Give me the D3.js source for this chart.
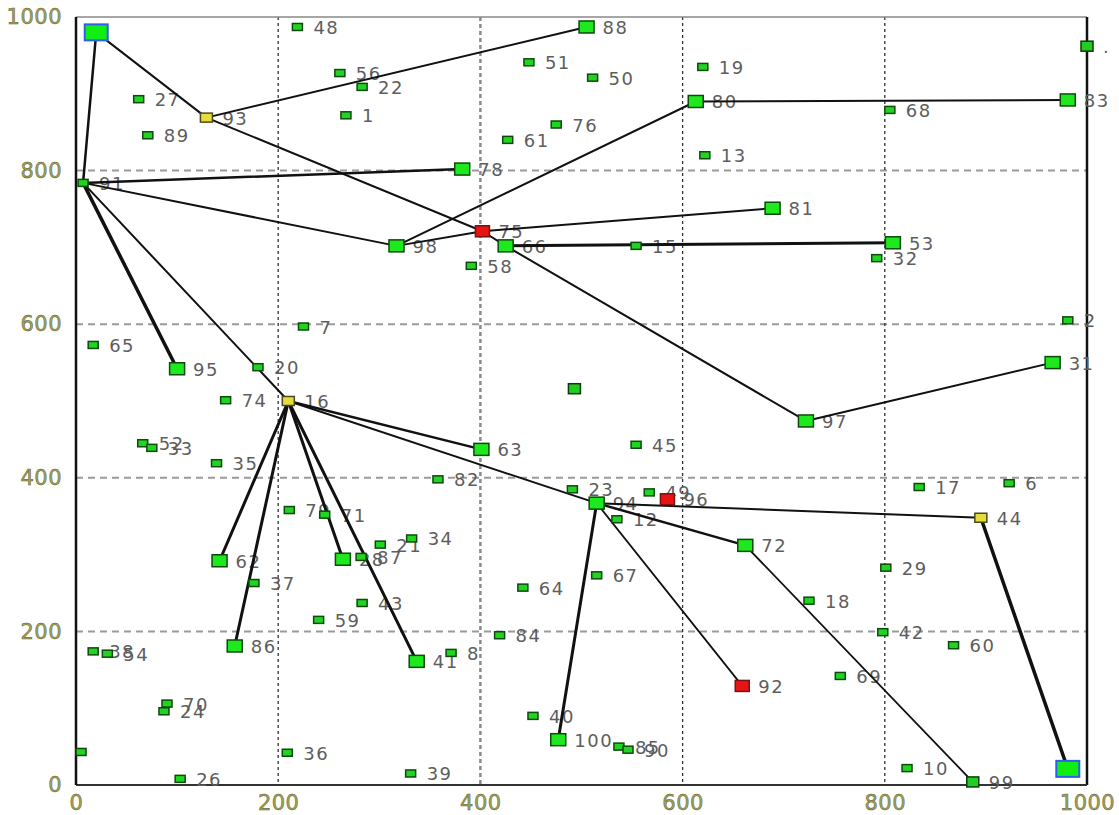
<!DOCTYPE html>
<html>
<head>
<meta charset="utf-8">
<script src="https://cdn.jsdelivr.net/npm/d3@7"></script>
<style>
  html, body { margin: 0; padding: 0; background: #ffffff; }
  svg { display: block; }
</style>
</head>
<body>
<svg id="chart" width="1119" height="815"></svg>
<script>
// Node ids, positions (0..1000 field coordinates) and marker kind
const nodeIds = ["s","t","u1","u2","u3",
  "48","88","56","22","1","51","50","19","76","61","13","80","68","83","27","93","89","78","91",
  "98","75","66","58","15","81","53","32","7","2","65","95","20","31","97","74","16","52","33",
  "35","63","45","82","23","49","96","94","12","17","6","44","79","71","21","34","62","28","87",
  "37","64","67","72","29","18","43","59","86","38","54","84","41","8","92","69","42","60","70",
  "24","40","100","85","90","36","39","26","10","99"];
const nodeLabels = ["","","","",".",
  "48","88","56","22","1","51","50","19","76","61","13","80","68","83","27","93","89","78","91",
  "98","75","66","58","15","81","53","32","7","2","65","95","20","31","97","74","16","52","33",
  "35","63","45","82","23","49","96","94","12","17","6","44","79","71","21","34","62","28","87",
  "37","64","67","72","29","18","43","59","86","38","54","84","41","8","92","69","42","60","70",
  "24","40","100","85","90","36","39","26","10","99"];
const nodeX = [20,981,493,5,1000,
  219,505,261,283,267,448,511,620,475,427,622,613,805,981,62,129,71,382,7,
  317,402,425,391,554,689,808,792,225,981,17,100,180,966,722,148,210,66,75,
  139,401,554,358,491,567,585,515,535,834,923,895,211,246,301,332,142,264,282,
  176,442,515,662,801,725,283,240,157,17,31,419,337,371,659,756,798,868,90,
  87,452,477,537,546,209,331,103,822,887];
const nodeY = [980,21,516,43,962,
  987,987,927,909,872,941,921,935,860,840,820,890,879,892,893,869,846,802,784,
  702,721,702,676,702,751,706,686,597,605,573,542,544,550,474,501,500,445,439,
  419,437,443,398,385,381,372,367,346,388,393,348,358,352,313,321,292,294,297,
  263,257,273,312,283,240,237,215,181,174,171,195,161,172,129,142,199,182,106,
  96,90,59,50,46,42,15,8,22,4];
const nodeKind = ["blue","blue","mid","small","mid",
  "small","big","small","small","small","small","small","small","small","small","small","big","small","big","small","yellow","small","big","small",
  "big","red","big","small","small","big","big","small","small","small","small","big","small","big","big","small","yellow","small","small",
  "small","big","small","small","small","small","red","big","small","small","small","yellow","small","small","small","small","big","big","small",
  "small","small","small","big","small","small","small","small","big","small","small","small","big","small","red","small","small","small","small",
  "small","small","big","small","small","small","small","small","small","mid"];

// Links between nodes and their stroke weight
const linkSource = ["s","s","93","93","75","66","97","98","80","91","91","98","75","66","91","91",
  "16","16","16","16","16","16","94","94","72","94","94","44"];
const linkTarget = ["91","93","88","75","66","97","31","80","83","78","98","75","81","53","95","16",
  "63","94","62","86","28","41","44","72","99","92","100","t"];
const linkWeight = [2.5,2,2,2,2,2,2,2,2,2.5,2,2,2,3,3.5,2,
  2.5,2,3,3,3,3,2,2.5,1.8,1.8,3,3.5];

// Axis ticks
const tickValues = [0,200,400,600,800,1000];
const gridValues = [200,400,600,800];

const W = 1119, H = 815;
const plot = {left: 76, right: 1087, top: 17, bottom: 785};

const svg = d3.select("#chart");
const x = d3.scaleLinear().domain([0,1000]).range([plot.left, plot.right]);
const y = d3.scaleLinear().domain([0,1000]).range([plot.bottom, plot.top]);

const nodes = nodeIds.map((id,i) => ({id, label: nodeLabels[i], x: nodeX[i], y: nodeY[i], kind: nodeKind[i]}));
const byId = new Map(nodes.map(n => [n.id, n]));
const links = linkSource.map((s,i) => ({s: byId.get(s), t: byId.get(linkTarget[i]), w: linkWeight[i]}));

// Grid
svg.append("g").selectAll("line.h").data(gridValues).join("line")
  .attr("x1", plot.left).attr("x2", plot.right)
  .attr("y1", d => y(d)).attr("y2", d => y(d))
  .attr("stroke", "#9a9a9a").attr("stroke-width", 2).attr("stroke-dasharray", "7,5");
svg.append("g").selectAll("line.v").data(gridValues).join("line")
  .attr("x1", d => x(d)).attr("x2", d => x(d))
  .attr("y1", plot.top).attr("y2", plot.bottom)
  .attr("stroke", d => d === 400 ? "#8a8a8a" : "#333").attr("stroke-width", d => d === 400 ? 2.5 : 1.3)
  .attr("stroke-dasharray", d => d === 400 ? "4,3" : "3,3");

// Frame
svg.append("line").attr("x1", plot.left).attr("x2", plot.right).attr("y1", plot.top).attr("y2", plot.top)
  .attr("stroke", "#888").attr("stroke-width", 1.5);
svg.append("line").attr("x1", plot.right).attr("x2", plot.right).attr("y1", plot.top).attr("y2", plot.bottom)
  .attr("stroke", "#111").attr("stroke-width", 2.5);
svg.append("line").attr("x1", plot.left).attr("x2", plot.right).attr("y1", plot.bottom).attr("y2", plot.bottom)
  .attr("stroke", "#333").attr("stroke-width", 2);
svg.append("line").attr("x1", plot.left).attr("x2", plot.left).attr("y1", plot.top).attr("y2", plot.bottom)
  .attr("stroke", "#111").attr("stroke-width", 2.5);

// Axes (labels only)
const tickFont = "DejaVu Sans, sans-serif";
const yAxis = svg.append("g").attr("transform", `translate(${plot.left},0)`)
  .call(d3.axisLeft(y).tickValues(tickValues).tickSize(0).tickPadding(14).tickFormat(d3.format("d")));
const xAxis = svg.append("g").attr("transform", `translate(0,${plot.bottom})`)
  .call(d3.axisBottom(x).tickValues(tickValues).tickSize(0).tickPadding(10).tickFormat(d3.format("d")));
[yAxis, xAxis].forEach(g => {
  g.select(".domain").remove();
  g.selectAll("text").attr("fill", "#a3a35a").attr("stroke", "#5c5c2c").attr("stroke-width", 0.5)
    .style("font-family", tickFont).style("font-size", "21px").style("letter-spacing", "0.5px");
});

// Node labels
svg.append("g").selectAll("text").data(nodes.filter(n => n.label)).join("text")
  .attr("x", n => x(n.x) + 16).attr("y", n => y(n.y) + 7)
  .attr("fill", "#5e5e5e")
  .style("font-family", "DejaVu Sans, sans-serif").style("font-size", "18px").style("letter-spacing", "1.5px")
  .text(n => n.label);

// Links
svg.append("g").selectAll("line").data(links).join("line")
  .attr("x1", l => x(l.s.x)).attr("y1", l => y(l.s.y))
  .attr("x2", l => x(l.t.x)).attr("y2", l => y(l.t.y))
  .attr("stroke", "#111").attr("stroke-width", l => l.w).attr("stroke-linecap", "round");

// Node markers
const size = {small: [10,7], mid: [12,10], big: [15,12], blue: [23,16], yellow: [12,9], red: [14,11]};
const fill = {small: "#22d422", mid: "#22cc22", big: "#1ee81e", blue: "#11ee11", yellow: "#e6dc3c", red: "#e81414"};
const stroke = {small: "#0d4a0d", mid: "#0d3a0d", big: "#0d4a0d", blue: "#2a5ff0", yellow: "#4a4a20", red: "#7a1010"};
svg.append("g").selectAll("rect").data(nodes).join("rect")
  .attr("x", n => x(n.x) - size[n.kind][0] / 2).attr("y", n => y(n.y) - size[n.kind][1] / 2)
  .attr("width", n => size[n.kind][0]).attr("height", n => size[n.kind][1])
  .attr("fill", n => fill[n.kind]).attr("stroke", n => stroke[n.kind])
  .attr("stroke-width", n => n.kind === "blue" ? 2 : 1.5);
</script>
</body>
</html>
